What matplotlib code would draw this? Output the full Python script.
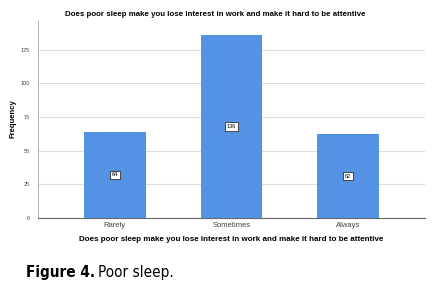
import matplotlib.pyplot as plt
import numpy as np

categories = ["Rarely", "Sometimes", "Always"]
counts = [64, 136, 62]
yticks = [0, 25, 50, 75, 100, 125]
question = "Does poor sleep make you lose interest in work and make it hard to be attentive"

plt.rcParams["font.family"] = ["Liberation Sans", "DejaVu Sans"]

fig = plt.figure(figsize=(4.4, 2.92), dpi=100)
ax = fig.add_axes([38 / 440, 1 - 218 / 292, 387 / 440, 198 / 292])

x = np.arange(len(categories))
ax.bar(x, counts, width=0.53, color="#5592e4", zorder=3)
for xi, c in zip(x, counts):
    ax.text(xi, c / 2, str(c), ha="center", va="center", fontsize=4, zorder=4,
            bbox=dict(boxstyle="square,pad=0.3", fc="white", ec="#333333", lw=0.6))

ax.set_xlim(-0.66, 2.66)
ax.set_ylim(0, 147)
ax.set_yticks(yticks)
ax.set_xticks(x)
ax.set_xticklabels(categories, fontsize=5.5, color="#444444")
ax.tick_params(axis="y", labelsize=4, colors="#444444", length=0, pad=6)
ax.tick_params(axis="x", length=0, pad=3)
ax.yaxis.grid(True, color="#dddddd", lw=0.8, zorder=0)
for s in ["top", "right"]:
    ax.spines[s].set_visible(False)
ax.spines["left"].set_color("#aaaaaa")
ax.spines["left"].set_linewidth(0.6)
ax.spines["bottom"].set_color("#666666")
ax.spines["bottom"].set_linewidth(0.8)

ax.set_ylabel("Frequency", fontsize=5.5, fontweight="bold", labelpad=3)
ax.set_xlabel(question, fontsize=5.8, fontweight="bold", labelpad=5)
fig.text(215 / 440, 1 - 14 / 292, question, ha="center", va="center",
         fontsize=5.7, fontweight="bold")

t = fig.text(26 / 440, 1 - 272 / 292, "Figure 4.", fontsize=11, fontweight="bold",
             family="DejaVu Sans", fontstretch="condensed", va="center")
fig.canvas.draw()
bb = t.get_window_extent()
fig.text(bb.x1 / 440 + 0.006, 1 - 272 / 292, "Poor sleep.", fontsize=11,
         family="DejaVu Sans", fontstretch="condensed", va="center")

fig.savefig("out.png", dpi=100)
